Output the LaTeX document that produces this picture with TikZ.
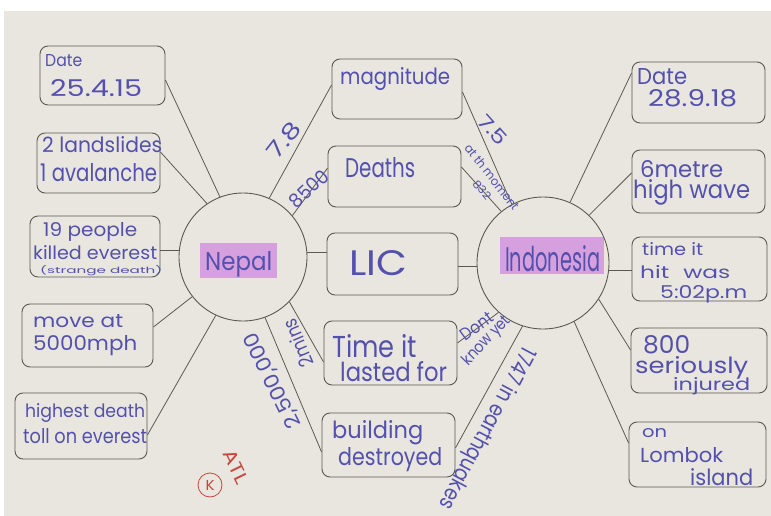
\documentclass[tikz,border=0pt]{standalone}
\usepackage{fontspec}
\setmainfont{Poppins}
\usepackage{graphicx}
\usetikzlibrary{calc}

\definecolor{paper}{HTML}{E8E6DE}
\definecolor{ink}{HTML}{5450AE}
\definecolor{pencil}{HTML}{5A5953}
\definecolor{marker}{HTML}{D6A0DE}
\definecolor{redpen}{HTML}{C9453F}

% scale a line of writing to a given width and height (in pt)
\newcommand\hwh[3]{\resizebox{#1pt}{#2pt}{#3}}

\tikzset{
  bubble/.style={circle, draw=pencil, line width=0.9pt, inner sep=0pt},
  card/.style={rectangle, draw=pencil, line width=0.9pt, rounded corners=8pt, inner sep=0pt},
  link/.style={draw=pencil, line width=0.8pt},
  hand/.style={inner sep=0pt, text=ink, font=\fontsize{20}{24}\selectfont, anchor=base west},
  note/.style={inner sep=0pt, text=ink, font=\fontsize{20}{24}\selectfont, anchor=center},
  rednote/.style={inner sep=0pt, text=redpen, font=\fontsize{20}{24}\selectfont, anchor=center},
}

\begin{document}
\begin{tikzpicture}[x=1pt, y=-1pt]
\useasboundingbox (0,0) rectangle (771,516);
\fill[white] (0,0) rectangle (771,516);
\fill[paper] (4,11) rectangle (771,516);

% highlighter behind the two country names
\fill[marker] (200,243) rectangle (277,278);
\fill[marker] (500,237) rectangle (604,274);

% the two hubs
\node[bubble, minimum size=128pt] (nepal) at (243,257) {};
\node[bubble, minimum size=132pt] (indo) at (543,263) {};
\node[hand] (nepalt) at (205,270) {\hwh{67}{19}{Nepal}};
\node[hand] (indot) at (505,271) {\hwh{95}{26}{Indonesia}};

% Nepal facts
\node[card, minimum width=125pt, minimum height=59pt] (l1) at (102.5,75.5) {};
\node[card, minimum width=123pt, minimum height=60pt] (l2) at (98.5,163) {};
\node[card, minimum width=130pt, minimum height=61pt] (l3) at (95,246.5) {};
\node[card, minimum width=131pt, minimum height=63pt] (l4) at (87.5,335.5) {};
\node[card, minimum width=132pt, minimum height=66pt] (l5) at (81,426) {};

% shared categories
\node[card, minimum width=130pt, minimum height=60pt] (m1) at (397,89) {};
\node[card, minimum width=133pt, minimum height=61pt] (m2) at (394.5,176.5) {};
\node[card, minimum width=131pt, minimum height=62pt] (m3) at (392.5,264) {};
\node[card, minimum width=133pt, minimum height=64pt] (m4) at (390.5,353) {};
\node[card, minimum width=133pt, minimum height=64pt] (m5) at (388.5,445) {};

% Indonesia facts
\node[card, minimum width=133pt, minimum height=61pt] (r1) at (698.5,92.5) {};
\node[card, minimum width=133pt, minimum height=63pt] (r2) at (698.5,181.5) {};
\node[card, minimum width=135pt, minimum height=64pt] (r3) at (699.5,269) {};
\node[card, minimum width=136pt, minimum height=65pt] (r4) at (699,360.5) {};
\node[card, minimum width=137pt, minimum height=65pt] (r5) at (697.5,454.5) {};

% spokes from Nepal
\draw[link] ([yshift=-4.5pt]l1.east) -- (nepal.111);
\draw[link] ([yshift=11pt]l2.east) -- (nepal.124.7);
\draw[link] (nepal.174) -- (nepal.174 -| l3.east);
\draw[link] ([yshift=8.5pt]l4.east) -- (nepal.218.8);
\draw[link] ([yshift=-9pt]l5.east) -- (nepal.245.3);
\draw[link] (nepal.66.5) -- ([yshift=4pt]m1.west);
\draw[link] (nepal.40.9) -- ([yshift=8.5pt]m2.west);
\draw[link] (nepal.4) -- (nepal.4 -| m3.west);
\draw[link] (nepal.-44.4) -- ([yshift=-9pt]m4.west);
\draw[link] (nepal.-70.7) -- ([yshift=-7pt]m5.west);

% spokes from Indonesia
\draw[link] ([yshift=-3pt]m1.east) -- (indo.118.1);
\draw[link] ([yshift=9.5pt]m2.east) -- (indo.129);
\draw[link] (indo.183) -- (indo.183 -| m3.east);
\draw[link] ([yshift=10pt]m4.east) -- (indo.228);
\draw[link] ([yshift=-3pt]m5.east) -- (indo.252.6);
\draw[link] (indo.66) -- ([yshift=19.5pt]r1.west);
\draw[link] (indo.46.8) -- ([yshift=8.5pt]r2.west);
\draw[link] (indo.-6) -- (indo.-6 -| r3.west);
\draw[link] (indo.-33.5) -- ([yshift=10.5pt]r4.west);
\draw[link] (indo.-62) -- ([yshift=11.5pt]r5.west);

% writing in the Nepal cards
\node[hand] (t11) at (45,67) {\hwh{37}{12}{Date}};
\node[hand] (t12) at (50,97) {\hwh{92}{17}{25.4.15}};
\node[hand] (t21) at (42,153) {\hwh{120}{16}{2 landslides}};
\node[hand] (t22) at (40,182) {\hwh{117}{18}{1 avalanche}};
\node[hand] (t31) at (43,236) {\hwh{94}{14}{19 people}};
\node[hand] (t32) at (33,259) {\hwh{124}{14}{killed everest}};
\node[hand] (t33) at (40,273) {\hwh{122}{8}{(strange death)}};
\node[hand] (t41) at (33,327) {\hwh{90}{13}{move at}};
\node[hand] (t42) at (33,350) {\hwh{104}{15}{5000mph}};
\node[hand] (t51) at (25,417) {\hwh{120}{14}{highest death}};
\node[hand] (t52) at (23,443) {\hwh{124}{15}{toll on everest}};

% writing in the middle cards
\node[hand] (m1t) at (340,85) {\hwh{110}{17}{magnitude}};
\node[hand] (m2t) at (345,177) {\hwh{70}{20}{Deaths}};
\node[hand] (m3t) at (349,275) {\hwh{58}{25}{LIC}};
\node[hand] (m41) at (332,357) {\hwh{85}{23}{Time it}};
\node[hand] (m42) at (340,381) {\hwh{107}{20}{lasted for}};
\node[hand] (m51) at (332,438) {\hwh{91}{18}{building}};
\node[hand] (m52) at (338,465) {\hwh{104}{18}{destroyed}};

% writing in the Indonesia cards
\node[hand] (r11) at (637,85) {\hwh{50}{16}{Date}};
\node[hand] (r12) at (648,107) {\hwh{89}{17}{28.9.18}};
\node[hand] (r21) at (640,177) {\hwh{83}{17}{6metre}};
\node[hand] (r22) at (633,198) {\hwh{117}{19}{high wave}};
\node[hand] (r31) at (642,255) {\hwh{61}{13}{time it}};
\node[hand] (r32) at (640,278) {\hwh{90}{13}{hit\hspace{0.6em}was}};
\node[hand] (r33) at (660,298) {\hwh{87}{13}{5:02p.m}};
\node[hand] (r41) at (643,353) {\hwh{47}{18}{800}};
\node[hand] (r42) at (635,373) {\hwh{113}{17}{seriously}};
\node[hand] (r43) at (673,390) {\hwh{77}{13}{injured}};
\node[hand] (r51) at (642,437) {\hwh{25}{9}{on}};
\node[hand] (r52) at (640,462) {\hwh{83}{15}{Lombok}};
\node[hand] (r53) at (690,485) {\hwh{63}{17}{island}};

% values written along the spokes
\node[note, rotate=52] (v78) at (284,140) {\hwh{40}{16}{7.8}};
\node[note, rotate=43] (v8500) at (309,189) {\hwh{46}{14}{8500}};
\node[note, rotate=-48] (v75) at (493,130) {\hwh{34}{14}{7.5}};
\node[note, rotate=-52] (vmom) at (492,177) {\hwh{80}{9}{at th moment}};
\node[note, rotate=-50] (v832) at (482,190) {\hwh{22}{8}{832}};
\node[note, rotate=113] (v2min) at (298,343) {\hwh{50}{15}{2mins}};
\node[note, rotate=116] (vbld) at (273,380) {\hwh{104}{15}{2,500,000}};
\node[note, rotate=36] (vdont) at (477,326) {\hwh{36}{12}{Dont}};
\node[note, rotate=46] (vknow) at (487,341) {\hwh{62}{12}{know yet}};
\node[note, rotate=-118] (v1747) at (486,428) {\hwh{180}{17}{1747 in earthquakes}};

% teacher's marks in red
\node[rednote, rotate=-64] (atl) at (236,467) {\hwh{36}{13}{ATL}};
\node[circle, draw=redpen, line width=0.8pt, minimum size=24pt, inner sep=0pt, text=redpen] (mark) at (210,485) {\hwh{9}{10}{K}};
\end{tikzpicture}
\end{document}
